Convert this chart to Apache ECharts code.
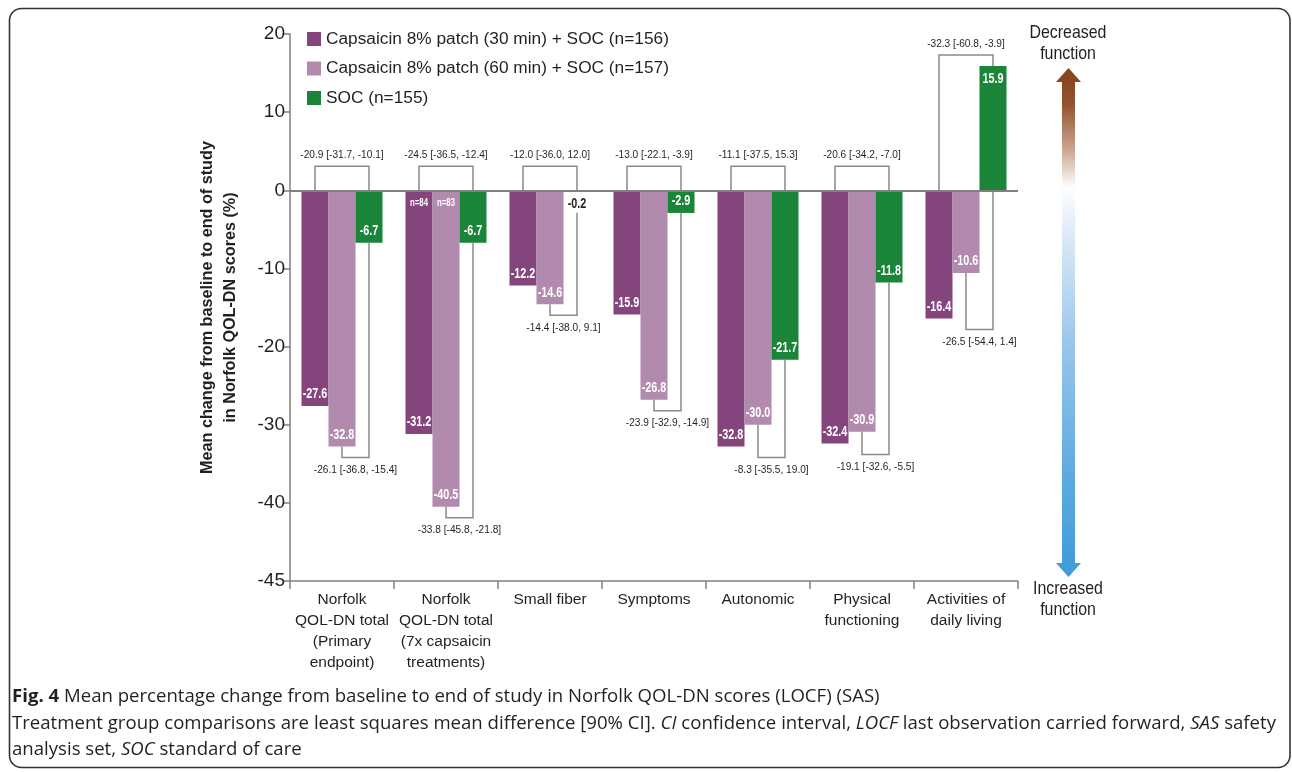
<!DOCTYPE html>
<html>
<head>
<meta charset="utf-8">
<title>Norfolk QOL-DN change from baseline</title>
<script src="https://cdn.jsdelivr.net/npm/echarts/dist/echarts.min.js"></script>
<style>
  html, body { margin: 0; padding: 0; background: #ffffff; }
  #chart { width: 1292px; height: 772px; }
</style>
</head>
<body>
<div id="chart"></div>
<script>
// ---- data ----
const categories = [
  'Norfolk\nQOL-DN total\n(Primary\nendpoint)',
  'Norfolk\nQOL-DN total\n(7x capsaicin\ntreatments)',
  'Small fiber',
  'Symptoms',
  'Autonomic',
  'Physical\nfunctioning',
  'Activities of\ndaily living'
];
const seriesNames = [
  'Capsaicin 8% patch (30 min) + SOC (n=156)',
  'Capsaicin 8% patch (60 min) + SOC (n=157)',
  'SOC (n=155)'
];
const capsaicin30 = [-27.6, -31.2, -12.2, -15.9, -32.8, -32.4, -16.4];
const capsaicin60 = [-32.8, -40.5, -14.6, -26.8, -30.0, -30.9, -10.6];
const soc = [-6.7, -6.7, -0.2, -2.9, -21.7, -11.8, 15.9];
// LS mean difference vs SOC [90% CI]
const diff30vsSoc = [
  [-20.9, -31.7, -10.1], [-24.5, -36.5, -12.4], [-12.0, -36.0, 12.0], [-13.0, -22.1, -3.9],
  [-11.1, -37.5, 15.3], [-20.6, -34.2, -7.0], [-32.3, -60.8, -3.9]
];
const diff60vsSoc = [
  [-26.1, -36.8, -15.4], [-33.8, -45.8, -21.8], [-14.4, -38.0, 9.1], [-23.9, -32.9, -14.9],
  [-8.3, -35.5, 19.0], [-19.1, -32.6, -5.5], [-26.5, -54.4, 1.4]
];
const subgroupN30 = ['', 'n=84', '', '', '', '', ''];
const subgroupN60 = ['', 'n=83', '', '', '', '', ''];
const yTickValues = [20, 10, 0, -10, -20, -30, -40, -50];
const yTickLabels = ['20', '10', '0', '-10', '-20', '-30', '-40', '-45'];

// ---- styling ----
const SANS = '"Liberation Sans", Arial, sans-serif';
const CAPTION_FONT = '"Open Sans", sans-serif';
const INK = '#231f20';
const AXIS_GRAY = '#808080';
const BRACKET_GRAY = '#8a8a8a';
const COLORS = ['#84457c', '#b18aad', '#1a8538'];
const BAR_W = 27;

const fmt = v => v.toFixed(1);
const ciText = d => fmt(d[0]) + ' [' + fmt(d[1]) + ', ' + fmt(d[2]) + ']';

// narrow text element (horizontally compressed) for custom series
function narrowText(txt, x, y, opts) {
  return {
    type: 'text',
    x: x, y: y,
    scaleX: opts.scaleX || 0.85,
    style: {
      text: txt, x: 0, y: 0,
      align: opts.align || 'center',
      verticalAlign: opts.va || 'middle',
      fontFamily: SANS,
      fontSize: opts.size,
      fontWeight: opts.weight || 'normal',
      fill: opts.fill || INK
    }
  };
}

// comparison brackets drawn above and below each category group
function renderBrackets(params, api) {
  const i = api.value(0);
  const zero = api.coord([i, 0]);
  const cx = zero[0], y0 = zero[1];
  const xA = cx - BAR_W, xB = cx, xC = cx + BAR_W;
  const yOf = v => api.coord([i, v])[1];
  const vA = capsaicin30[i], vB = capsaicin60[i], vC = soc[i];

  const topA = yOf(Math.max(vA, 0));
  const topC = yOf(Math.max(vC, 0));
  const topLevel = Math.min(y0 - 24, topA - 11, topC - 11);

  const botLevel = Math.max(yOf(vA), yOf(vB), yOf(vC)) + 11;
  const botB = yOf(Math.min(vB, 0));
  let botC = yOf(Math.min(vC, 0));
  if (Math.abs(vC) < 1) botC += 21;

  const lineStyle = { stroke: BRACKET_GRAY, lineWidth: 1.5, fill: null };
  return {
    type: 'group',
    children: [
      { type: 'polyline', shape: { points: [[xA, y0], [xA, topLevel], [xC, topLevel], [xC, topC]] }, style: lineStyle },
      narrowText(ciText(diff30vsSoc[i]), (xA + xC) / 2, topLevel - 5, { size: 11.5, va: 'bottom', scaleX: 0.88 }),
      { type: 'polyline', shape: { points: [[xB, botB], [xB, botLevel], [xC, botLevel], [xC, botC]] }, style: lineStyle },
      narrowText(ciText(diff60vsSoc[i]), (xB + xC) / 2, botLevel + 6, { size: 11.5, va: 'top', scaleX: 0.88 })
    ]
  };
}

// value labels inside the bars (and subgroup sizes at the bar tops)
function renderValueLabels(params, api) {
  const i = api.value(0);
  const zero = api.coord([i, 0]);
  const cx = zero[0], y0 = zero[1];
  const groups = [
    [capsaicin30[i], cx - BAR_W, subgroupN30[i]],
    [capsaicin60[i], cx, subgroupN60[i]],
    [soc[i], cx + BAR_W, '']
  ];
  const children = [];
  groups.forEach(([v, x, note]) => {
    const yEnd = api.coord([i, v])[1];
    if (Math.abs(v) < 1) {
      children.push(narrowText(fmt(v), x, yEnd + 12, { size: 15, weight: 'bold', scaleX: 0.72, fill: INK }));
    } else if (v < 0) {
      children.push(narrowText(fmt(v), x, yEnd - 12, { size: 15.5, weight: 'bold', scaleX: 0.7, fill: '#ffffff' }));
    } else {
      children.push(narrowText(fmt(v), x, yEnd + 13, { size: 15.5, weight: 'bold', scaleX: 0.7, fill: '#ffffff' }));
    }
    if (note) {
      children.push(narrowText(note, x, y0 + 13, { size: 10, weight: 'bold', scaleX: 0.78, fill: '#ffffff' }));
    }
  });
  return { type: 'group', children: children };
}

const chart = echarts.init(document.getElementById('chart'), null, { renderer: 'canvas' });

const option = {
  animation: false,
  backgroundColor: '#ffffff',
  color: COLORS,
  grid: { left: 290, right: 274, top: 34, bottom: 191, containLabel: false, outerBoundsMode: 'none' },
  legend: {
    orient: 'vertical',
    left: 307,
    top: 29,
    padding: 0,
    itemWidth: 14,
    itemHeight: 14,
    itemGap: 9.5,
    icon: 'rect',
    selectedMode: false,
    textStyle: { fontFamily: SANS, fontSize: 17.3, color: INK, lineHeight: 20 },
    data: seriesNames
  },
  xAxis: {
    type: 'category',
    data: categories,
    axisLine: { onZero: false, lineStyle: { color: AXIS_GRAY, width: 1.5 } },
    axisTick: { show: true, length: 8, alignWithLabel: false, lineStyle: { color: AXIS_GRAY, width: 1.5 } },
    axisLabel: { interval: 0, margin: 8, fontFamily: SANS, fontSize: 15.5, lineHeight: 21, color: INK },
    splitLine: { show: false }
  },
  yAxis: {
    type: 'value',
    min: -50,
    max: 20,
    interval: 10,
    name: 'Mean change from baseline to end of study\nin Norfolk QOL-DN scores (%)',
    nameLocation: 'middle',
    nameRotate: 90,
    nameGap: 48,
    nameTextStyle: { fontFamily: SANS, fontWeight: 'bold', fontSize: 16.2, lineHeight: 23, color: INK },
    axisLine: { show: true, lineStyle: { color: AXIS_GRAY, width: 1.5 } },
    axisTick: { show: true, length: 6, lineStyle: { color: AXIS_GRAY, width: 1.5 } },
    axisLabel: {
      margin: 5, fontFamily: SANS, fontSize: 19, color: INK,
      formatter: v => { const k = yTickValues.indexOf(v); return k >= 0 ? yTickLabels[k] : ''; }
    },
    splitLine: { show: false }
  },
  series: [
    {
      name: seriesNames[0], type: 'bar', barWidth: BAR_W, barGap: '0%', data: capsaicin30,
      markLine: {
        silent: true, symbol: ['none', 'none'], label: { show: false },
        lineStyle: { color: AXIS_GRAY, width: 2, type: 'solid' },
        data: [{ yAxis: 0 }]
      },
      z: 2
    },
    { name: seriesNames[1], type: 'bar', barWidth: BAR_W, barGap: '0%', data: capsaicin60, z: 2 },
    { name: seriesNames[2], type: 'bar', barWidth: BAR_W, barGap: '0%', data: soc, z: 2 },
    {
      type: 'custom',
      renderItem: renderBrackets,
      data: categories.map((c, i) => [i, 0]),
      encode: { x: 0, y: 1 },
      clip: false,
      silent: true,
      z: 4
    },
    {
      type: 'custom',
      renderItem: renderValueLabels,
      data: categories.map((c, i) => [i, 0]),
      encode: { x: 0, y: 1 },
      clip: false,
      silent: true,
      z: 5
    }
  ],
  graphic: [
    // figure frame
    { type: 'rect', shape: { x: 9.5, y: 8.5, width: 1280.5, height: 759, r: 12 },
      style: { fill: null, stroke: '#333333', lineWidth: 1.6 }, z: 0 },
    // direction arrow
    {
      type: 'polygon',
      shape: { points: [
        [1068.5, 68], [1081, 82], [1075, 82], [1075, 563], [1081, 563], [1068.5, 577],
        [1056, 563], [1062, 563], [1062, 82], [1056, 82]
      ] },
      style: {
        fill: {
          type: 'linear', x: 0, y: 0, x2: 0, y2: 1,
          colorStops: [
            { offset: 0, color: '#86421c' },
            { offset: 0.07, color: '#925230' },
            { offset: 0.16, color: '#c9a58f' },
            { offset: 0.235, color: '#ffffff' },
            { offset: 0.33, color: '#dbe9f7' },
            { offset: 0.55, color: '#97c5ea' },
            { offset: 0.8, color: '#5eaae0' },
            { offset: 1, color: '#3f9bd8' }
          ]
        }
      }
    },
    { type: 'text', x: 1068, y: 22, scaleX: 0.86, style: { text: 'Decreased\nfunction', x: 0, y: 0, align: 'center', verticalAlign: 'top',
      fontFamily: SANS, fontSize: 18.5, lineHeight: 21, fill: INK } },
    { type: 'text', x: 1068, y: 578, scaleX: 0.86, style: { text: 'Increased\nfunction', x: 0, y: 0, align: 'center', verticalAlign: 'top',
      fontFamily: SANS, fontSize: 18.5, lineHeight: 21, fill: INK } },
    // caption
    { type: 'text', style: {
      text: '{b|Fig. 4} Mean percentage change from baseline to end of study in Norfolk QOL-DN scores (LOCF) (SAS)',
      x: 12, y: 697, verticalAlign: 'middle', fontFamily: CAPTION_FONT, fontSize: 18.6, fill: INK,
      rich: { b: { fontFamily: CAPTION_FONT, fontWeight: 'bold', fontSize: 18.6, fill: INK } }
    } },
    { type: 'text', style: {
      text: 'Treatment group comparisons are least squares mean difference [90% CI]. {i|CI} confidence interval, {i|LOCF} last observation carried forward, {i|SAS} safety',
      x: 12, y: 724, verticalAlign: 'middle', fontFamily: CAPTION_FONT, fontSize: 18.6, fill: INK,
      rich: { i: { fontFamily: CAPTION_FONT, fontStyle: 'italic', fontSize: 18.6, fill: INK } }
    } },
    { type: 'text', style: {
      text: 'analysis set, {i|SOC} standard of care',
      x: 12, y: 750, verticalAlign: 'middle', fontFamily: CAPTION_FONT, fontSize: 18.6, fill: INK,
      rich: { i: { fontFamily: CAPTION_FONT, fontStyle: 'italic', fontSize: 18.6, fill: INK } }
    } }
  ]
};

chart.setOption(option);
</script>
</body>
</html>
